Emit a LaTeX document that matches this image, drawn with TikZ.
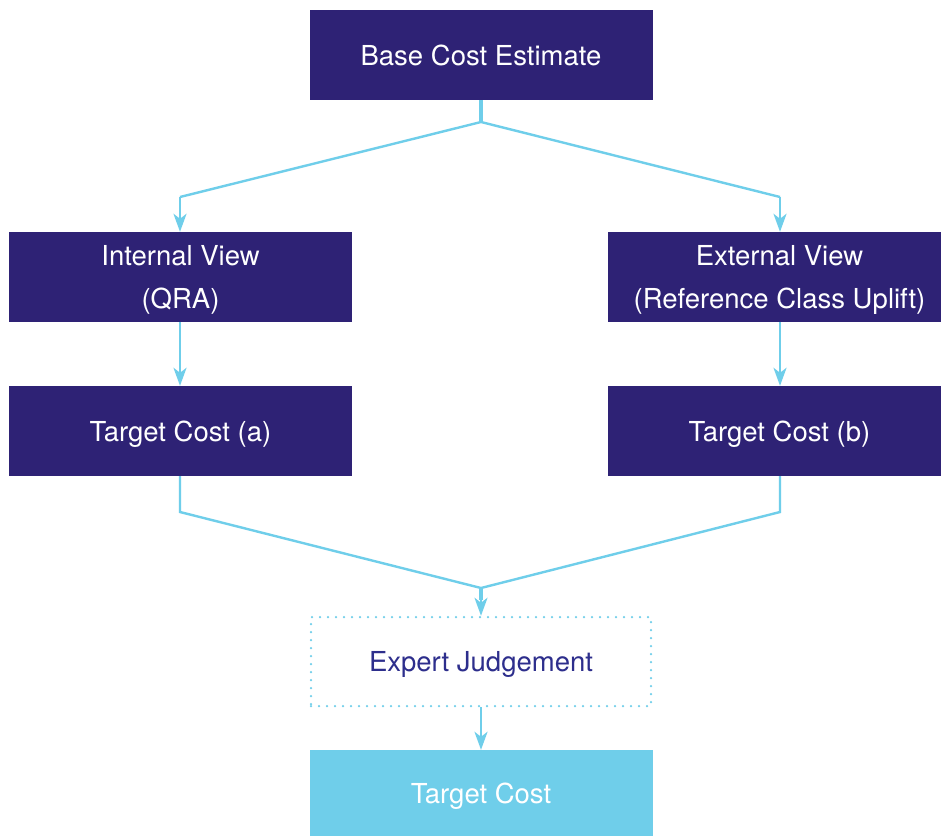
\documentclass[tikz,border=0pt]{standalone}
\usepackage{fontspec}
\setmainfont{TeX Gyre Heros}
\usetikzlibrary{arrows.meta}
\definecolor{navy}{HTML}{2E2275}
\definecolor{inkblue}{HTML}{2D2E8C}
\definecolor{sky}{HTML}{6FCEEA}
\begin{document}
\begin{tikzpicture}[x=1pt,y=-1pt,
  box/.style={rectangle, fill=navy, text=white, minimum width=343pt, minimum height=90pt,
    inner sep=0pt, align=center, text depth=0pt, font=\fontsize{27.5}{43}\selectfont},
  link/.style={draw=sky, line width=2.4pt},
  stem/.style={draw=sky, line width=4.5pt},
  tip/.style={-{Stealth[length=18pt,width=13pt,inset=5pt]}}]
\clip (0,0) rectangle (941,836);
\fill[white] (0,0) rectangle (941,836);

\node[box] (base) at (481,55) {Base Cost Estimate};
\node[box] (intv) at (180.5,277) {Internal View\\(QRA)};
\node[box] (extv) at (779.5,277) {External View\\(Reference Class Uplift)};
\node[box] (ta) at (180.5,431) {Target Cost (a)};
\node[box] (tb) at (779.5,431) {Target Cost (b)};
\node[box, draw=sky, fill=white, text=inkblue, line width=2.5pt, line cap=round,
  dash pattern=on 0pt off 8pt, minimum width=340pt, minimum height=89pt] (ej) at (481,661.5) {Expert Judgement};
\node[box, fill=sky, minimum height=86pt] (tc) at (481,793) {Target Cost};

% split from the base estimate
\coordinate (split) at (481,122);
\coordinate (li) at (180,197);
\coordinate (ri) at (780,197);
\draw[stem] (base.south) -- (split);
\draw[link] (li) -- (split) -- (ri);
\draw[link,tip] (li) -- (li |- intv.north);
\draw[link,tip] (ri) -- (ri |- extv.north);

% views to targets
\draw[link,tip] (li |- intv.south) -- (li |- ta.north);
\draw[link,tip] (ri |- extv.south) -- (ri |- tb.north);

% merge into expert judgement
\coordinate (la) at (180,512);
\coordinate (rb) at (780,512);
\coordinate (merge) at (481,588);
\draw[link] (la |- ta.south) -- (la) -- (merge) -- (rb) -- (rb |- tb.south);
\draw[stem] (merge) -- (481,600);
\draw[link,tip] (481,596) -- (ej.north);

% final target
\draw[link,tip] (ej.south) -- (tc.north);
\end{tikzpicture}
\end{document}
